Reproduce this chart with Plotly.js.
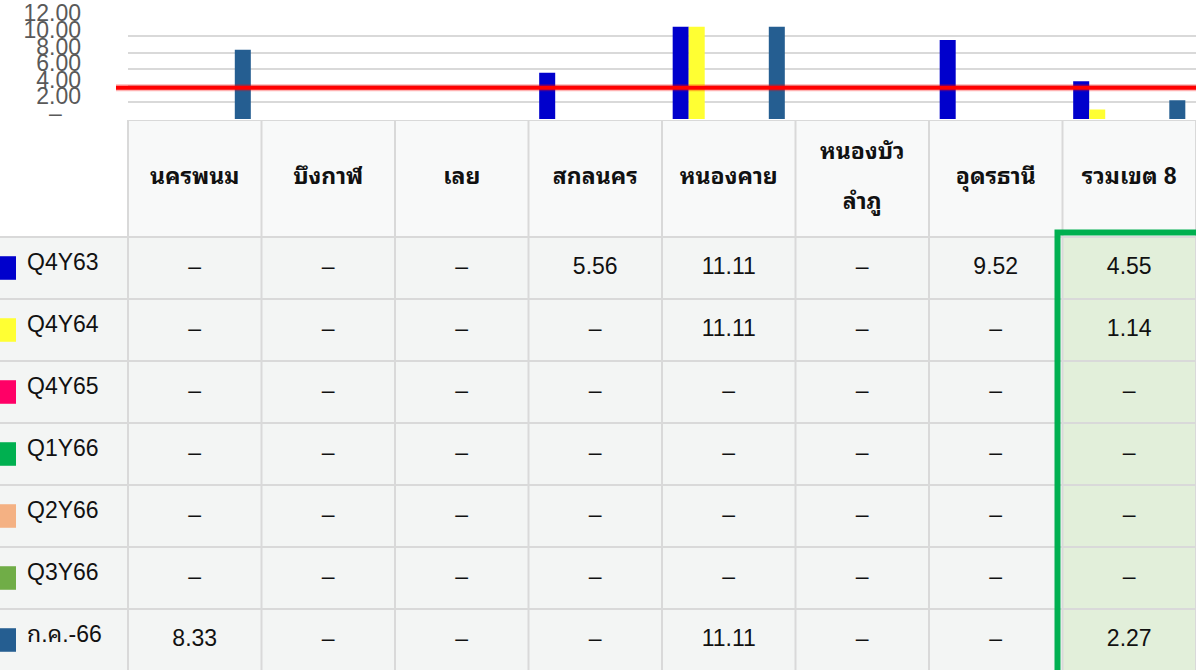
<!DOCTYPE html>
<html>
<head>
<meta charset="utf-8">
<script src="https://cdn.plot.ly/plotly-3.0.1.min.js"></script>
<style>html,body{margin:0;padding:0;background:#fff;}#chart{width:1196px;height:670px;}</style>
</head>
<body>
<div id="chart"></div>
<script>
// ---------- data ----------
const categories = ['นครพนม','บึงกาฬ','เลย','สกลนคร','หนองคาย','หนองบัวลำภู','อุดรธานี','รวมเขต 8'];
const headerLabels = ['นครพนม','บึงกาฬ','เลย','สกลนคร','หนองคาย','หนองบัว<br>ลำภู','อุดรธานี','รวมเขต 8'];
const seriesNames = ['Q4Y63','Q4Y64','Q4Y65','Q1Y66','Q2Y66','Q3Y66','ก.ค.-66'];
const q4y63 = [null,null,null,5.56,11.11,null,9.52,4.55];
const q4y64 = [null,null,null,null,11.11,null,null,1.14];
const q4y65 = [null,null,null,null,null,null,null,null];
const q1y66 = [null,null,null,null,null,null,null,null];
const q2y66 = [null,null,null,null,null,null,null,null];
const q3y66 = [null,null,null,null,null,null,null,null];
const jul66 = [8.33,null,null,null,11.11,null,null,2.27];
const seriesValues = [q4y63,q4y64,q4y65,q1y66,q2y66,q3y66,jul66];
const seriesColors = ['#0000CC','#FFFF33','#FF0066','#00B050','#F4B183','#70AD47','#255E91'];
const target = 3.75;
const yTickVals = [0,2,4,6,8,10,12];
const yTickText = ['–\u00a0\u00a0\u00a0','2.00','4.00','6.00','8.00','10.00','12.00'];

// ---------- layout constants ----------
const W = 1196, H = 670;
const plotLeft = 128, colW = (W - plotLeft) / categories.length;
const tableTop = 120, headerH = 117, rowH = 62;
const x2Min = -0.5 - plotLeft / colW;
const headTop = -0.5 - headerH / rowH;
const headMid = (headTop - 0.5) / 2;
const y2Bottom = -0.5 + (H - tableTop - headerH) / rowH;
const tableFont = '"Liberation Sans", Arial, "Noto Sans Thai Looped", "Noto Sans Thai", Tahoma, sans-serif';

const traces = [];
seriesNames.forEach((name, i) => {
  traces.push({
    type: 'bar', name: name, x: categories, y: seriesValues[i],
    marker: {color: seriesColors[i]}, xaxis: 'x', yaxis: 'y', hoverinfo: 'skip', showlegend: false
  });
});

// table body text via scatter text on x2/y2
const fmt = v => (v === null || v === undefined) ? '–' : v.toFixed(2);
const tx = [], ty = [], tt = [];
seriesNames.forEach((name, r) => {
  categories.forEach((c, j) => { tx.push(j); ty.push(r); tt.push(fmt(seriesValues[r][j])); });
});
traces.push({type:'scatter', mode:'text', x: tx, y: ty, text: tt, xaxis:'x2', yaxis:'y2',
  textposition:'middle center', textfont:{family: tableFont, size: 23, color:'#111'}, hoverinfo:'skip', showlegend:false});

// header text: each line placed separately (wide line spacing as in the reference)
const hx = [], hy = [], ht = [];
const lineGap = 50 / rowH;
headerLabels.forEach((h, j) => {
  const lines = h.split('<br>');
  lines.forEach((ln, k) => {
    hx.push(j);
    hy.push(headMid + (k - (lines.length - 1) / 2) * lineGap);
    ht.push('<b>' + ln + '</b>');
  });
});
traces.push({type:'scatter', mode:'text', x: hx, y: hy, text: ht, xaxis:'x2', yaxis:'y2',
  textposition:'middle center', textfont:{family: tableFont, size: 23, color:'#111'}, hoverinfo:'skip', showlegend:false});

// legend labels in first column
traces.push({type:'scatter', mode:'text', x: seriesNames.map(()=> x2Min + 27/colW), y: seriesNames.map((n,r)=>r - 0.06),
  text: seriesNames, xaxis:'x2', yaxis:'y2',
  textposition:'middle right', textfont:{family: tableFont, size: 23, color:'#111'}, hoverinfo:'skip', showlegend:false});

const shapes = [];
// cell fills
categories.forEach((c, j) => {
  shapes.push({type:'rect', xref:'x2', yref:'y2', x0:j-0.5, x1:j+0.5, y0:headTop, y1:-0.5, fillcolor:'#f8f9f9', line:{width:0}, layer:'below'});
  shapes.push({type:'rect', xref:'x2', yref:'y2', x0:j-0.5, x1:j+0.5, y0:-0.5, y1:y2Bottom,
    fillcolor: j === categories.length-1 ? '#E2EFDA' : '#f3f5f4', line:{width:0}, layer:'below'});
});
shapes.push({type:'rect', xref:'x2', yref:'y2', x0:x2Min, x1:-0.5, y0:-0.5, y1:y2Bottom, fillcolor:'#f3f5f4', line:{width:0}, layer:'below'});
// grid lines
for (let j = 0; j <= categories.length; j++) {
  shapes.push({type:'line', xref:'x2', yref:'y2', x0:j-0.5, x1:j-0.5, y0:headTop, y1:y2Bottom, line:{color:'#d9d9d9', width:2}, layer:'below'});
}
shapes.push({type:'line', xref:'x2', yref:'y2', x0:-0.5, x1:categories.length-0.5, y0:headTop, y1:headTop, line:{color:'#d9d9d9', width:2}, layer:'below'});
for (let r = 0; r <= seriesNames.length; r++) {
  shapes.push({type:'line', xref:'x2', yref:'y2', x0:x2Min, x1:categories.length-0.5, y0:r-0.5, y1:r-0.5, line:{color:'#d9d9d9', width:2}, layer:'below'});
}
// legend swatches
seriesNames.forEach((n, r) => {
  shapes.push({type:'rect', xref:'x2', yref:'y2', x0:x2Min, x1:x2Min + 16/colW, y0:r-0.19, y1:r+0.19,
    fillcolor: seriesColors[r], line:{width:0}, layer:'above'});
});
// green highlight border around total column
const last = categories.length - 1;
shapes.push({type:'rect', xref:'x2', yref:'y2', x0:last-0.5-5/colW, x1:last+0.5+10/colW, y0:-0.5-4.5/rowH, y1:y2Bottom+0.5,
  fillcolor:'rgba(0,0,0,0)', line:{color:'#00B050', width:6}, layer:'above'});
// target line
shapes.push({type:'line', xref:'paper', yref:'y', x0:116/W, x1:1, y0:target, y1:target, line:{color:'rgba(255,0,0,0.3)', width:7}, layer:'above'});
shapes.push({type:'line', xref:'paper', yref:'y', x0:116/W, x1:1, y0:target, y1:target, line:{color:'#FF0000', width:4}, layer:'above'});

const layout = {
  width: W, height: H,
  margin: {l:0, r:0, t:0, b:0, pad:0},
  paper_bgcolor:'#ffffff', plot_bgcolor:'rgba(0,0,0,0)',
  barmode:'group', bargap:0.16, bargroupgap:0,
  showlegend:false,
  xaxis: {domain:[plotLeft/W, 1], anchor:'y', showticklabels:false, showgrid:false, zeroline:false, ticks:'', fixedrange:true},
  yaxis: {domain:[(H-119)/H, (H-19.3)/H], anchor:'x', range:[0,12], tickvals:yTickVals, ticktext:yTickText,
    showgrid:true, gridcolor:'#d9d9d9', gridwidth:2, zeroline:false, ticks:'', ticklabelstandoff:46, ticklabelshift:-6,
    tickfont:{family:'"Liberation Sans", Arial, sans-serif', size:23, color:'#595959'}, fixedrange:true},
  xaxis2: {domain:[0,1], anchor:'y2', range:[x2Min, categories.length-0.5], visible:false, fixedrange:true},
  yaxis2: {domain:[0, (H-tableTop)/H], anchor:'x2', range:[y2Bottom, headTop], visible:false, fixedrange:true},
  shapes: shapes
};

Plotly.newPlot('chart', traces, layout, {displayModeBar:false, staticPlot:true});
</script>
</body>
</html>
